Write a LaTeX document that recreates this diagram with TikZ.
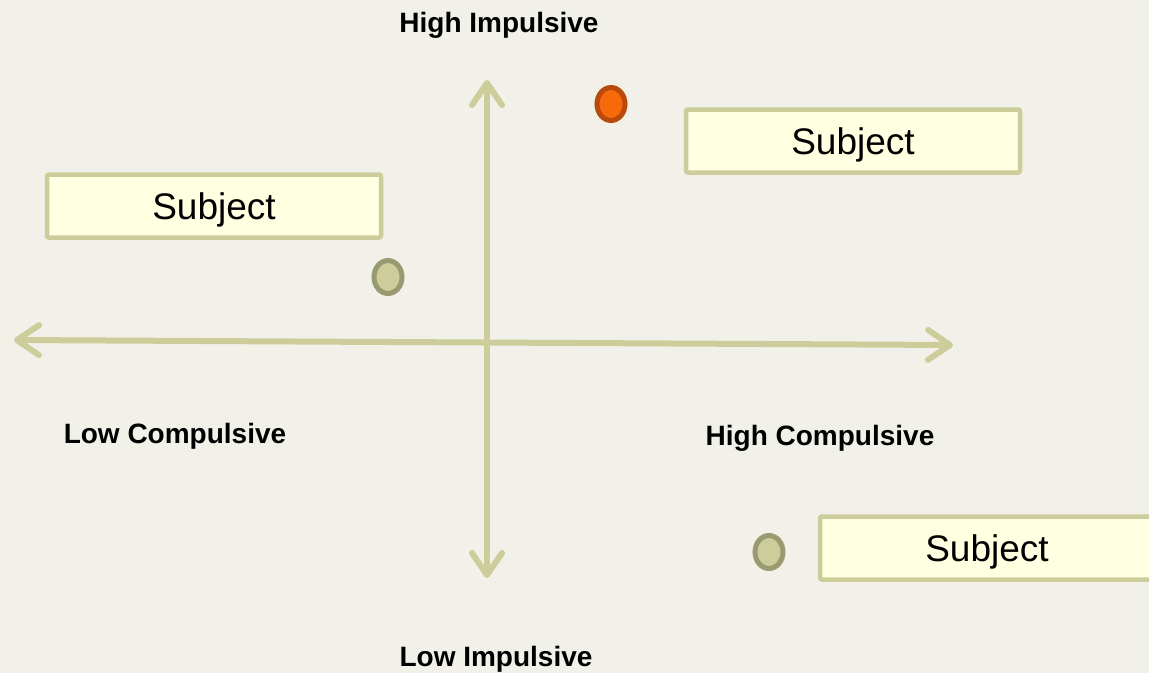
\documentclass[tikz,border=0pt]{standalone}
\usepackage{fontspec}
\setmainfont{Liberation Sans}
\usetikzlibrary{arrows.meta}
\definecolor{bgcol}{HTML}{F2F1E9}
\definecolor{axiscol}{HTML}{CDCD9B}
\definecolor{boxfill}{HTML}{FFFFE1}
\definecolor{dotfill}{HTML}{CDCD9B}
\definecolor{dotline}{HTML}{999972}
\definecolor{hotfill}{HTML}{F76A0C}
\definecolor{hotline}{HTML}{B94A0B}
\tikzset{
  axis/.style={draw=axiscol,line width=6pt,line cap=round,
    {Straight Barb[length=22pt,width=30pt,line cap=round,line join=round]}-{Straight Barb[length=22pt,width=30pt,line cap=round,line join=round]}},
  subject/.style={draw=axiscol,fill=boxfill,line width=4.5pt,rounded corners=2pt,
    minimum width=334pt,minimum height=63pt,inner sep=0pt,
    text height=27pt,text depth=0pt,
    font=\fontsize{37}{40}\selectfont},
  axislabel/.style={text height=21pt,text depth=0pt,
    font=\fontsize{28}{32}\selectfont\bfseries},
  dot/.style={ellipse,draw=dotline,fill=dotfill,line width=5pt,
    minimum width=28pt,minimum height=33pt,inner sep=0pt},
  hotdot/.style={dot,draw=hotline,fill=hotfill}
}
\usetikzlibrary{shapes.geometric}
\begin{document}
\begin{tikzpicture}[x=1pt,y=-1pt]
    \fill[bgcol] (0,0) rectangle (1149,673);
    \useasboundingbox (0,0) rectangle (1149,673);

    \coordinate (top) at (487,80);
    \coordinate (bottom) at (487,578);
    \coordinate (left) at (14,340);
    \coordinate (right) at (953,345);

    \path[axis] (top) -- (bottom);
    \path[axis] (left) -- (right);

    \node[axislabel] (hi) at (499,22) {High Impulsive};
    \node[axislabel] (li) at (496,656) {Low Impulsive};
    \node[axislabel] (lc) at (175,433) {Low Compulsive};
    \node[axislabel] (hc) at (820,435) {High Compulsive};

    \node[subject] (s1) at (853,141) {Subject};
    \node[subject] (s2) at (214,206) {Subject};
    \node[subject] (s3) at (987,548) {Subject};

    \node[hotdot] (d1) at (611,104) {};
    \node[dot] (d2) at (388,277) {};
    \node[dot] (d3) at (769,552) {};
\end{tikzpicture}
\end{document}
